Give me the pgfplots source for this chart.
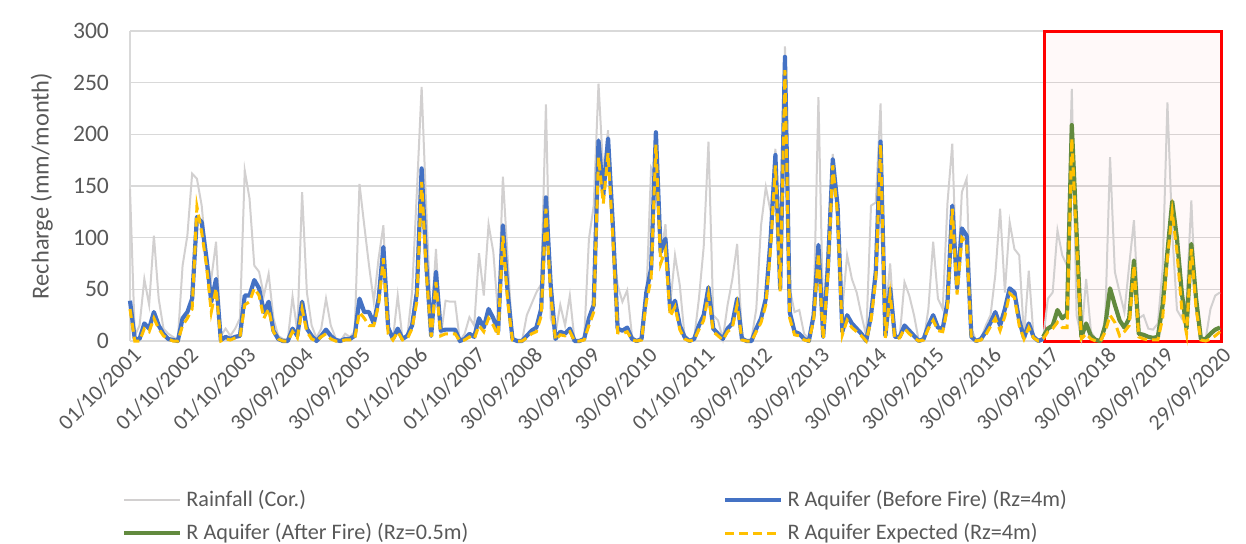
\documentclass[border=0pt]{standalone}
\usepackage{fontspec}
\setmainfont{Carlito}
\usepackage{pgfplots}
\usepackage{pgfplotstable}
\pgfplotsset{compat=1.18}
\definecolor{cblue}{RGB}{68,114,196}
\definecolor{cgray}{RGB}{210,208,208}
\definecolor{cyel}{RGB}{255,192,0}
\definecolor{cgreen}{RGB}{98,138,62}
\definecolor{cgrid}{RGB}{217,217,217}
\definecolor{ctext}{RGB}{89,89,89}
\pgfplotstableread{
i r b e
0 147 39 31
1 5 2 0
2 15 2 0
3 60 17 12
4 35 12 9
5 102 28 22
6 41 15 12
7 12 7 5
8 7 2 2
9 4 1 0
10 1 0 0
11 73 22 15
12 102 28 22
13 162 41 31
14 157 120 130
15 131 115 105
16 80 80 73
17 60 38 28
18 96 60 51
19 5 1 0
20 12 4 2
21 5 2 1
22 12 4 3
23 22 5 4
24 165 44 35
25 138 44 38
26 73 59 51
27 67 51 44
28 44 28 22
29 65 38 31
30 22 10 9
31 5 2 2
32 2 0 0
33 1 0 0
34 43 12 9
35 9 5 3
36 144 38 31
37 47 12 9
38 15 5 2
39 3 0 0
40 12 5 4
41 41 11 7
42 15 5 2
43 3 1 0
44 0 0 0
45 7 2 1
46 4 2 1
47 9 5 2
48 152 41 28
49 112 28 22
50 73 28 15
51 38 17 15
52 80 41 35
53 112 91 80
54 9 13 7
55 2 2 1
56 44 12 9
57 2 2 1
58 5 5 2
59 47 15 12
60 144 47 38
61 246 167 154
62 125 73 64
63 15 5 4
64 89 67 57
65 4 10 5
66 39 11 7
67 38 11 7
68 38 11 7
69 0 0 0
70 7 2 1
71 23 7 4
72 15 4 2
73 85 22 15
74 44 13 9
75 113 31 22
76 86 22 15
77 25 9 5
78 159 112 102
79 80 47 38
80 2 2 1
81 0 0 0
82 0 0 0
83 25 5 3
84 36 10 7
85 47 13 9
86 55 31 24
87 229 139 128
88 22 54 45
89 7 2 1
90 35 9 6
91 15 7 5
92 44 12 9
93 0 0 0
94 0 0 0
95 2 2 1
96 99 22 15
97 131 35 28
98 249 194 178
99 163 141 133
100 204 196 182
101 96 112 100
102 54 12 8
103 38 10 7
104 49 13 9
105 5 2 1
106 0 0 0
107 2 2 1
108 41 47 38
109 168 70 60
110 160 202 190
111 80 86 75
112 113 99 88
113 35 30 24
114 83 39 33
115 54 15 11
116 5 4 2
117 0 0 0
118 2 2 1
119 41 15 11
120 91 25 20
121 193 52 45
122 25 12 9
123 20 7 5
124 2 2 1
125 35 12 9
126 60 17 13
127 94 41 35
128 5 2 1
129 0 0 0
130 2 0 0
131 31 12 9
132 112 22 18
133 149 41 35
134 125 99 90
135 186 180 170
136 80 51 48
137 285 275 262
138 51 28 22
139 28 9 6
140 30 7 5
141 7 2 1
142 2 0 0
143 25 25 20
144 236 93 85
145 20 4 2
146 95 73 65
147 181 176 170
148 125 131 122
149 31 9 6
150 83 25 20
151 60 17 13
152 47 12 9
153 25 7 5
154 5 0 0
155 131 25 20
156 134 67 60
157 230 193 190
158 22 5 3
159 75 51 45
160 5 4 2
161 4 4 3
162 57 15 12
163 44 10 7
164 25 5 3
165 0 0 0
166 0 2 1
167 31 15 12
168 96 25 20
169 41 13 10
170 31 12 9
171 134 38 32
172 191 131 128
173 47 51 45
174 144 109 100
175 157 102 95
176 12 4 2
177 0 0 0
178 2 2 1
179 15 9 6
180 25 18 14
181 64 28 22
182 128 15 10
183 47 31 24
184 115 51 46
185 89 47 42
186 83 20 15
187 4 3 2
188 68 17 13
189 4 4 3
190 0 0 0
191 2 2 2
192 41 nan 9
193 47 nan 12
194 107 nan 18
195 83 nan 13
196 73 nan 13
197 244 nan 196
198 25 nan 95
199 3 nan 2
200 60 nan 7
201 9 nan 2
202 2 nan 0
203 0 nan 0
204 22 nan 9
205 178 nan 25
206 67 nan 18
207 47 nan 5
208 28 nan 9
209 73 nan 15
210 117 nan 73
211 22 nan 4
212 25 nan 2
213 12 nan 1
214 11 nan 1
215 17 nan 1
216 70 nan 22
217 231 nan 80
218 105 nan 125
219 30 nan 86
220 22 nan 31
221 40 nan 7
222 136 nan 89
223 28 nan 31
224 4 nan 1
225 2 nan 0
226 31 nan 2
227 44 nan 5
228 47 nan 9
}\maindata
\pgfplotstableread{
i a
191 4
192 12
193 15
194 30
195 22
196 26
197 209
198 105
199 4
200 17
201 5
202 1
203 0
204 15
205 51
206 35
207 20
208 13
209 22
210 78
211 7
212 6
213 4
214 3
215 4
216 35
217 86
218 135
219 99
220 47
221 12
222 94
223 41
224 2
225 2
226 7
227 11
228 13
}\afterdata
\begin{document}
\begin{tikzpicture}
\begin{axis}[
  scale only axis, width=545pt, height=155pt,
  xmin=0, xmax=228, ymin=0, ymax=300,
  clip=false,
  axis x line*=bottom, axis y line*=left,
  axis line style={cgrid, line width=0.75pt},
  ytick={0,50,...,300},
  ymajorgrids, grid style={cgrid, line width=0.75pt},
  major tick length=0pt,
  xtick={0,12,...,228},
  xticklabels={01/10/2001,01/10/2002,01/10/2003,30/09/2004,30/09/2005,01/10/2006,01/10/2007,30/09/2008,30/09/2009,30/09/2010,01/10/2011,30/09/2012,30/09/2013,30/09/2014,30/09/2015,30/09/2016,30/09/2017,30/09/2018,30/09/2019,29/09/2020},
  xticklabel style={rotate=45, anchor=north east, font=\fontsize{11}{12}\selectfont, text=ctext, inner sep=1pt, yshift=-1pt},
  yticklabel style={font=\fontsize{11.8}{13}\selectfont, text=ctext, xshift=-7pt},
  /pgf/number format/assume math mode=true,
  ylabel={Recharge (mm/month)},
  ylabel style={font=\fontsize{12.2}{14}\selectfont, text=ctext, at={(axis description cs:-0.081,0.5)}, anchor=center},
  legend columns=2,
  legend cell align=left,
  legend style={draw=none, fill=none, font=\fontsize{11.1}{12.5}\selectfont, text=ctext,
    at={(axis description cs:-0.013,-0.455)}, anchor=north west,
    /tikz/every even column/.append style={column sep=125.5pt}, row sep=3pt},
  legend image code/.code={\draw[#1] plot coordinates {(0pt,0pt) (14pt,0pt) (28pt,0pt)};},
]
\draw[red, line width=1.5pt, fill=red, fill opacity=0.025] (axis cs:191.3,0) rectangle (axis cs:228.3,300);
\addplot[cgray, line width=1pt] table[x=i, y=r] {\maindata};
\addlegendentry{Rainfall (Cor.)}
\addplot[cblue, line width=2.1pt, line join=round] table[x=i, y=b] {\maindata};
\addlegendentry{R Aquifer (Before Fire) (Rz=4m)}
\addplot[cgreen, line width=2.1pt, line join=round] table[x=i, y=a] {\afterdata};
\addlegendentry{R Aquifer (After Fire) (Rz=0.5m)}
\addplot[cyel, line width=1.5pt, dash pattern=on 4.5pt off 2.5pt] table[x=i, y=e] {\maindata};
\addlegendentry{R Aquifer Expected (Rz=4m)}
\coordinate (SW) at (rel axis cs:0,0);
\end{axis}
\pgfresetboundingbox
\path[use as bounding box] (SW) ++(-65pt,-101pt) rectangle ++(623pt,271.5pt);
\end{tikzpicture}
\end{document}
